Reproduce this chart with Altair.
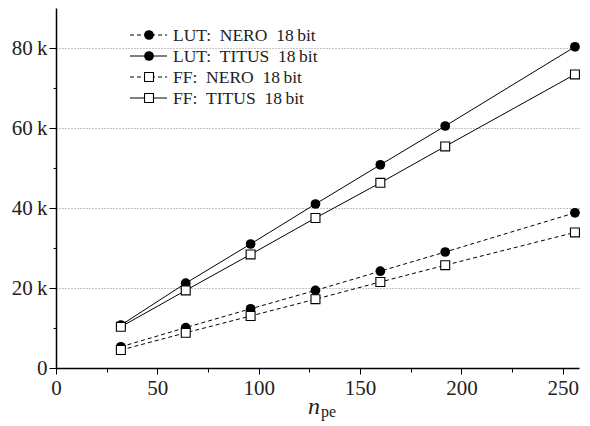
import altair as alt
import pandas as pd

n_pe = [32, 64, 96, 128, 160, 192, 256]
lut_nero = [5300, 10100, 14800, 19400, 24200, 29000, 38800]
lut_titus = [10700, 21200, 31000, 41000, 50800, 60500, 80300]
ff_nero = [4500, 8800, 13000, 17200, 21500, 25700, 33900]
ff_titus = [10300, 19400, 28400, 37500, 46300, 55400, 73400]

series_names = ["LUT:\u2002NERO\u200218\u2009bit", "LUT:\u2002TITUS\u200218\u2009bit",
                "FF:\u2002NERO\u200218\u2009bit", "FF:\u2002TITUS\u200218\u2009bit"]
series_vals = [lut_nero, lut_titus, ff_nero, ff_titus]
dashed = [True, False, True, False]
filled = [True, True, False, False]

FONT = "Liberation Serif"
x_scale = alt.Scale(domain=[0, 258], nice=False, zero=False)
y_scale = alt.Scale(domain=[0, 90000], nice=False)

x_axis = alt.Axis(
    values=[0, 25, 50, 75, 100, 125, 150, 175, 200, 225, 250],
    labelExpr="datum.value % 50 == 0 ? datum.label : ''",
    tickSize={"condition": {"test": "datum.value % 50 == 0", "value": 6}, "value": 4},
    grid=False, title=None, labelFont=FONT, labelFontSize=21, labelColor="#222",
    labelPadding=3, domainColor="black", domainWidth=1.5, tickColor="black",
    labelFlush=False, labelOverlap=False,
)
y_axis = alt.Axis(
    values=[0, 10000, 20000, 30000, 40000, 50000, 60000, 70000, 80000],
    labelExpr="datum.value % 20000 == 0 ? (datum.value == 0 ? '0' : (datum.value/1000) + '\u2009k') : ''",
    tickSize={"condition": {"test": "datum.value % 20000 == 0", "value": 7}, "value": 3},
    grid=True,
    gridOpacity={"condition": {"test": "datum.value % 20000 == 0 && datum.value > 0", "value": 1}, "value": 0},
    gridDash=[1, 2], gridColor="#888", gridWidth=1,
    title=None, labelFont=FONT, labelFontSize=21, labelColor="#222",
    labelPadding=2, domainColor="black", domainWidth=1.5, tickColor="black",
    labelOverlap=False, labelBaseline="middle",
)

X = alt.X("n_pe:Q", scale=x_scale, axis=x_axis)
Y = alt.Y("v:Q", scale=y_scale, axis=y_axis)

layers = []
for i, (name, vals) in enumerate(zip(series_names, series_vals)):
    df = pd.DataFrame({"n_pe": n_pe, "v": vals, "series": name})
    base = alt.Chart(df)
    line_kwargs = {"color": "black", "strokeWidth": 1}
    if dashed[i]:
        line_kwargs["strokeDash"] = [4, 3]
    line = base.mark_line(**line_kwargs).encode(x=X, y=Y)
    if filled[i]:
        pt = base.mark_point(shape="circle", filled=True, color="black", size=95, opacity=1)
    else:
        pt = base.mark_point(shape="square", filled=True, fill="white", stroke="black",
                             strokeWidth=1.1, size=80, opacity=1)
    pts = pt.encode(x=X, y=Y)
    layers += [line, pts]

# legend
for i, name in enumerate(series_names):
    yy = 27 + 21 * i
    rk = {"color": "black", "strokeWidth": 1}
    if dashed[i]:
        rk["strokeDash"] = [4, 3]
    layers.append(alt.Chart().mark_rule(**rk).encode(
        x=alt.value(74), x2=alt.value(111), y=alt.value(yy)))
    if filled[i]:
        m = alt.Chart().mark_point(shape="circle", filled=True, color="black", size=95, opacity=1)
    else:
        m = alt.Chart().mark_point(shape="square", filled=True, fill="white", stroke="black",
                                   strokeWidth=1.1, size=80, opacity=1)
    layers.append(m.encode(x=alt.value(93), y=alt.value(yy)))
    layers.append(alt.Chart().mark_text(align="left", baseline="middle", font=FONT,
                                        fontSize=17.5, color="#222").encode(
        x=alt.value(117), y=alt.value(yy + 1), text=alt.value(name)))

# axis title n_pe
layers.append(alt.Chart().mark_text(align="left", baseline="alphabetic", font=FONT,
                                    fontSize=24, fontStyle="italic", color="#222").encode(
    x=alt.value(252), y=alt.value(406), text=alt.value("n")))
layers.append(alt.Chart().mark_text(align="left", baseline="alphabetic", font=FONT,
                                    fontSize=16, color="#222").encode(
    x=alt.value(265), y=alt.value(409), text=alt.value("pe")))

chart = alt.layer(*layers).properties(
    width=523, height=360,
    autosize=alt.AutoSizeParams(type="none"),
    padding={"left": 48, "top": 0, "right": 3, "bottom": 58},
).configure(background="white").configure_view(stroke=None)

chart.save("out.html", embed_options={"renderer": "svg", "actions": False})
